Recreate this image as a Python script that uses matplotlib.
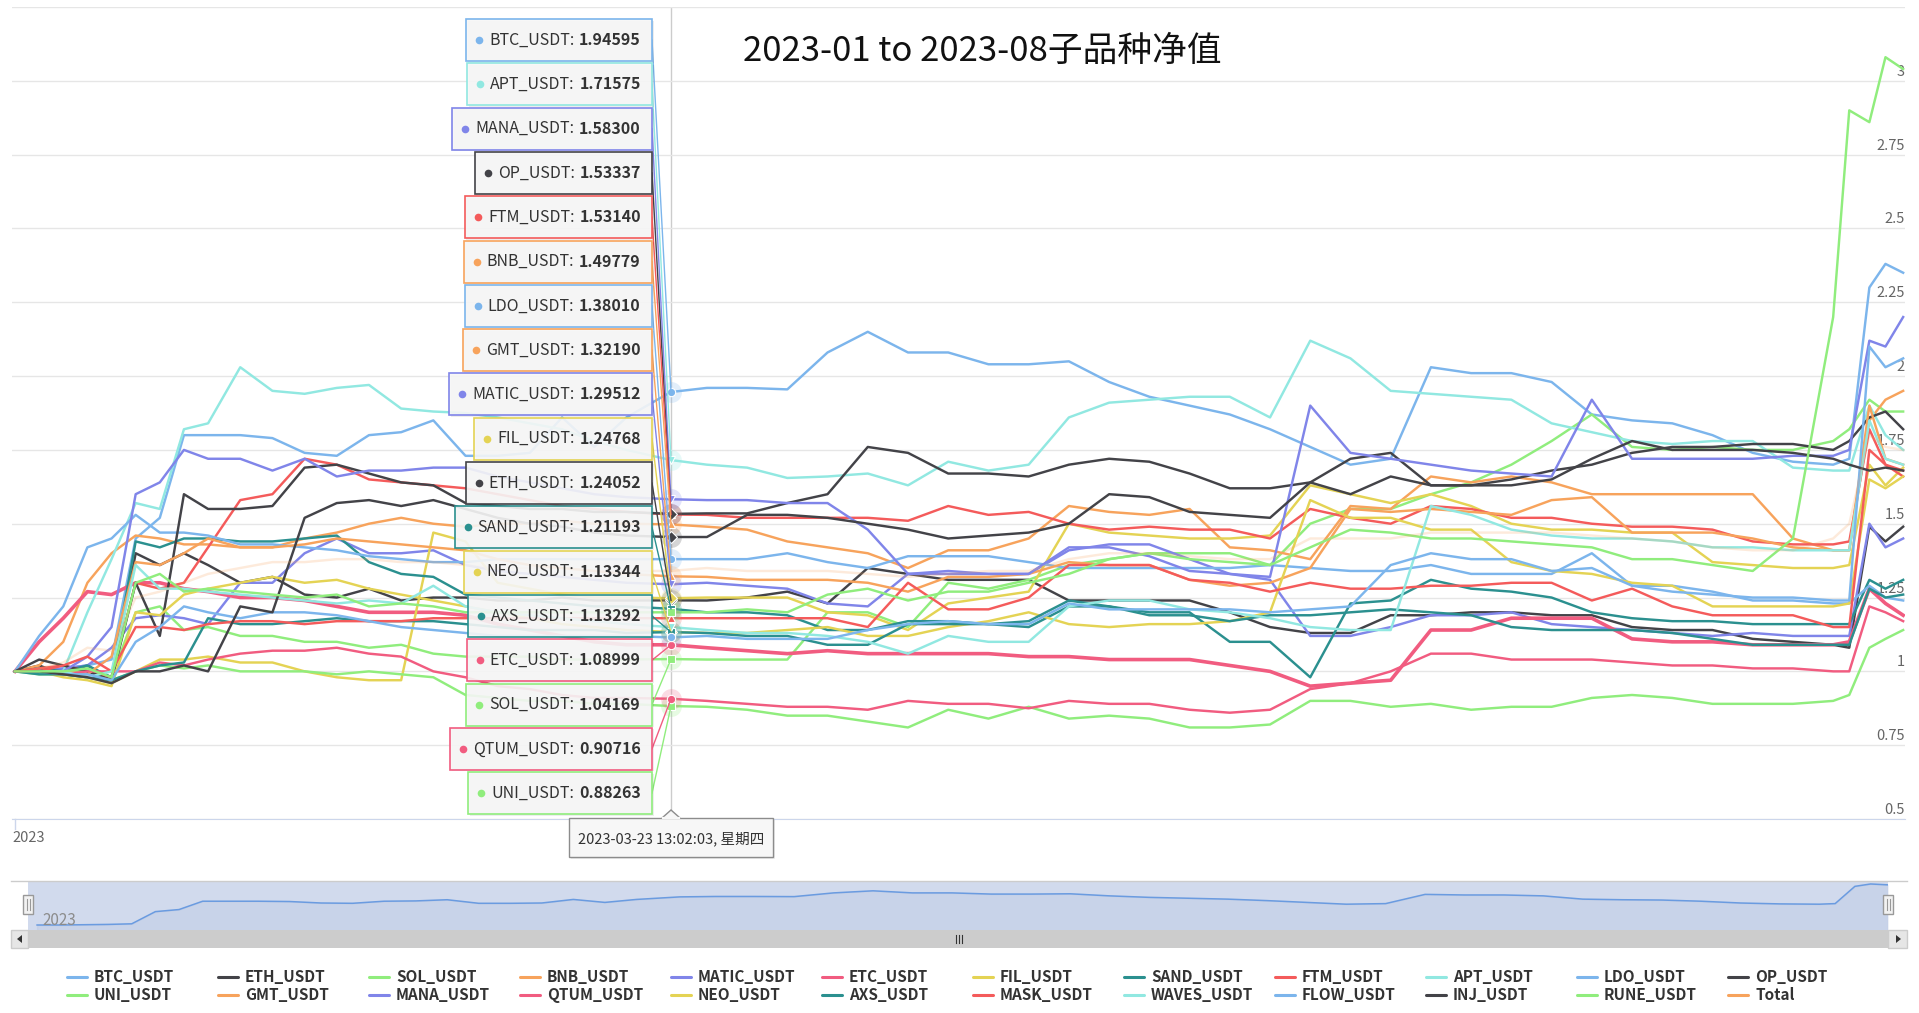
import numpy as np
import matplotlib.pyplot as plt
from matplotlib.patches import Rectangle, Polygon
import matplotlib.transforms as mtransforms

plt.rcParams['font.family'] = ['Noto Sans CJK SC', 'DejaVu Sans']

# days since 2023-01-01
days = np.array([0, 3, 6, 9, 12, 15, 18, 21, 24,
                 28, 32, 36, 40, 44, 48, 52, 56,
                 60, 64, 68, 72, 76, 81.5,
                 86, 91, 96, 101, 106, 111, 116, 121, 126,
                 131, 136, 141, 146, 151, 156, 161, 166, 171,
                 176, 181, 186, 191, 196, 201, 206, 211, 216,
                 221, 226, 228, 230.5, 232.5, 234.7])
hover_day = 81.5

btc = [1.00, 1.00, 1.01, 1.02, 1.04, 1.45, 1.52, 1.80, 1.80,
       1.80, 1.79, 1.74, 1.73, 1.80, 1.81, 1.85, 1.73,
       1.73, 1.74, 1.86, 1.76, 1.86, 1.94595,
       1.96, 1.96, 1.955, 2.08, 2.15, 2.08, 2.08, 2.04, 2.04,
       2.05, 1.98, 1.93, 1.90, 1.87, 1.82, 1.76, 1.70, 1.72,
       2.03, 2.01, 2.01, 1.98, 1.87, 1.85, 1.84, 1.80, 1.74,
       1.71, 1.70, 1.72, 2.30, 2.38, 2.35]
eth = [1.00, 1.02, 0.99, 1.02, 0.97, 1.40, 1.36, 1.40, 1.36,
       1.30, 1.32, 1.26, 1.25, 1.28, 1.24, 1.25, 1.25,
       1.24, 1.24, 1.25, 1.24, 1.24, 1.24052,
       1.24, 1.25, 1.27, 1.23, 1.35, 1.33, 1.31, 1.31, 1.31,
       1.24, 1.24, 1.24, 1.24, 1.20, 1.15, 1.13, 1.13, 1.19,
       1.19, 1.20, 1.20, 1.19, 1.19, 1.15, 1.14, 1.14, 1.11,
       1.10, 1.09, 1.08, 1.49, 1.44, 1.49]
sol = [1.00, 1.00, 0.99, 1.01, 0.98, 1.20, 1.22, 1.14, 1.15,
       1.12, 1.12, 1.10, 1.10, 1.08, 1.09, 1.06, 1.05,
       1.05, 1.05, 1.04, 1.04, 1.04, 1.04169,
       1.04, 1.04, 1.04, 1.20, 1.20, 1.15, 1.30, 1.28, 1.31,
       1.36, 1.38, 1.40, 1.40, 1.40, 1.36, 1.50, 1.55, 1.55,
       1.60, 1.64, 1.70, 1.78, 1.87, 1.76, 1.75, 1.76, 1.75,
       1.75, 1.78, 1.82, 1.92, 1.88, 1.88]
bnb = [1.00, 1.02, 1.10, 1.30, 1.40, 1.46, 1.45, 1.43, 1.43,
       1.42, 1.42, 1.45, 1.47, 1.50, 1.52, 1.50, 1.49,
       1.50, 1.50, 1.51, 1.50, 1.50, 1.49779,
       1.49, 1.48, 1.44, 1.42, 1.40, 1.35, 1.41, 1.41, 1.45,
       1.56, 1.54, 1.53, 1.55, 1.42, 1.41, 1.38, 1.56, 1.55,
       1.66, 1.64, 1.66, 1.64, 1.60, 1.60, 1.60, 1.60, 1.60,
       1.45, 1.41, 1.41, 1.85, 1.92, 1.95]
matic = [1.00, 1.00, 1.01, 1.02, 1.08, 1.18, 1.19, 1.18, 1.16,
         1.30, 1.30, 1.40, 1.45, 1.40, 1.40, 1.41, 1.36,
         1.34, 1.33, 1.32, 1.31, 1.30, 1.29512,
         1.30, 1.29, 1.28, 1.23, 1.22, 1.33, 1.34, 1.33, 1.33,
         1.41, 1.43, 1.43, 1.38, 1.33, 1.31, 1.12, 1.12, 1.15,
         1.19, 1.19, 1.20, 1.16, 1.15, 1.14, 1.13, 1.12, 1.13,
         1.12, 1.12, 1.12, 1.50, 1.42, 1.45]
etc = [1.00, 1.10, 1.18, 1.27, 1.26, 1.30, 1.30, 1.28, 1.27,
       1.25, 1.25, 1.24, 1.22, 1.20, 1.20, 1.20, 1.19,
       1.16, 1.14, 1.12, 1.10, 1.09, 1.08999,
       1.08, 1.07, 1.06, 1.07, 1.06, 1.06, 1.06, 1.06, 1.05,
       1.05, 1.04, 1.04, 1.04, 1.02, 1.00, 0.95, 0.96, 0.97,
       1.14, 1.14, 1.18, 1.18, 1.18, 1.11, 1.10, 1.10, 1.09,
       1.09, 1.09, 1.10, 1.28, 1.23, 1.19]
fil = [1.00, 1.00, 0.99, 0.98, 0.96, 1.00, 1.04, 1.04, 1.05,
       1.03, 1.03, 1.00, 0.98, 0.97, 0.97, 1.47, 1.44,
       1.30, 1.28, 1.26, 1.25, 1.25, 1.24768,
       1.25, 1.25, 1.25, 1.20, 1.19, 1.14, 1.23, 1.25, 1.27,
       1.50, 1.47, 1.46, 1.45, 1.45, 1.46, 1.63, 1.60, 1.57,
       1.60, 1.56, 1.50, 1.48, 1.48, 1.47, 1.47, 1.37, 1.36,
       1.35, 1.35, 1.36, 1.70, 1.63, 1.69]
sand = [1.00, 1.01, 1.00, 1.02, 0.98, 1.44, 1.42, 1.45, 1.45,
        1.44, 1.44, 1.45, 1.46, 1.37, 1.33, 1.32, 1.26,
        1.25, 1.24, 1.23, 1.22, 1.22, 1.21193,
        1.20, 1.20, 1.19, 1.14, 1.14, 1.17, 1.17, 1.16, 1.15,
        1.22, 1.22, 1.20, 1.20, 1.10, 1.10, 0.98, 1.23, 1.24,
        1.31, 1.28, 1.27, 1.25, 1.20, 1.18, 1.17, 1.17, 1.16,
        1.16, 1.16, 1.16, 1.31, 1.28, 1.31]
ftm = [1.00, 1.01, 1.02, 1.00, 0.98, 1.30, 1.28, 1.30, 1.42,
       1.58, 1.60, 1.72, 1.70, 1.65, 1.64, 1.63, 1.62,
       1.60, 1.58, 1.56, 1.55, 1.54, 1.53140,
       1.53, 1.52, 1.52, 1.52, 1.52, 1.51, 1.56, 1.53, 1.54,
       1.50, 1.48, 1.49, 1.48, 1.48, 1.45, 1.55, 1.52, 1.50,
       1.56, 1.55, 1.52, 1.52, 1.50, 1.49, 1.49, 1.48, 1.44,
       1.43, 1.43, 1.44, 1.82, 1.70, 1.66]
apt = [1.00, 1.00, 1.00, 1.20, 1.38, 1.57, 1.55, 1.82, 1.84,
       2.03, 1.95, 1.94, 1.96, 1.97, 1.89, 1.88, 1.875,
       1.86, 1.84, 1.82, 1.78, 1.75, 1.71575,
       1.70, 1.69, 1.655, 1.66, 1.67, 1.63, 1.71, 1.68, 1.70,
       1.86, 1.91, 1.92, 1.93, 1.93, 1.86, 2.12, 2.06, 1.95,
       1.94, 1.93, 1.92, 1.84, 1.81, 1.78, 1.77, 1.78, 1.78,
       1.69, 1.68, 1.68, 1.90, 1.80, 1.75]
ldo = [1.00, 1.12, 1.22, 1.42, 1.45, 1.53, 1.47, 1.47, 1.46,
       1.43, 1.43, 1.42, 1.41, 1.39, 1.38, 1.37, 1.37,
       1.38, 1.38, 1.38, 1.38, 1.38, 1.38010,
       1.38, 1.38, 1.40, 1.37, 1.35, 1.39, 1.39, 1.39, 1.37,
       1.35, 1.35, 1.35, 1.35, 1.35, 1.36, 1.35, 1.34, 1.34,
       1.36, 1.33, 1.33, 1.33, 1.40, 1.29, 1.29, 1.27, 1.24,
       1.24, 1.23, 1.23, 1.29, 1.25, 1.24]
op = [1.00, 1.04, 1.02, 1.00, 0.97, 1.30, 1.12, 1.60, 1.55,
      1.55, 1.56, 1.69, 1.70, 1.67, 1.64, 1.63, 1.57,
      1.56, 1.55, 1.55, 1.54, 1.54, 1.53337,
      1.535, 1.535, 1.57, 1.60, 1.76, 1.74, 1.67, 1.67, 1.66,
      1.70, 1.72, 1.71, 1.67, 1.62, 1.62, 1.64, 1.72, 1.74,
      1.63, 1.63, 1.65, 1.68, 1.70, 1.74, 1.76, 1.76, 1.77,
      1.77, 1.75, 1.78, 1.86, 1.88, 1.82]
uni = [1.00, 0.99, 0.99, 0.98, 0.97, 1.00, 1.02, 1.01, 1.02,
       1.00, 1.00, 1.00, 0.99, 1.00, 0.99, 0.98, 0.92,
       0.91, 0.90, 0.90, 0.89, 0.89, 0.88263,
       0.88, 0.87, 0.85, 0.85, 0.83, 0.81, 0.87, 0.84, 0.88,
       0.84, 0.85, 0.84, 0.81, 0.81, 0.82, 0.90, 0.90, 0.88,
       0.89, 0.87, 0.88, 0.88, 0.91, 0.92, 0.91, 0.89, 0.89,
       0.89, 0.90, 0.92, 1.08, 1.11, 1.14]
gmt = [1.00, 1.00, 1.00, 0.99, 1.05, 1.37, 1.36, 1.40, 1.45,
       1.42, 1.42, 1.43, 1.45, 1.44, 1.43, 1.42, 1.41,
       1.38, 1.36, 1.35, 1.34, 1.33, 1.32190,
       1.32, 1.31, 1.31, 1.31, 1.30, 1.27, 1.32, 1.32, 1.33,
       1.37, 1.36, 1.36, 1.31, 1.29, 1.30, 1.35, 1.55, 1.54,
       1.55, 1.54, 1.53, 1.58, 1.59, 1.47, 1.47, 1.47, 1.45,
       1.42, 1.41, 1.41, 1.90, 1.72, 1.70]
mana = [1.00, 1.00, 1.00, 1.05, 1.15, 1.60, 1.64, 1.75, 1.72,
        1.72, 1.68, 1.72, 1.66, 1.68, 1.68, 1.69, 1.69,
        1.66, 1.64, 1.62, 1.60, 1.59, 1.58300,
        1.58, 1.58, 1.57, 1.57, 1.48, 1.33, 1.33, 1.33, 1.33,
        1.42, 1.42, 1.39, 1.34, 1.33, 1.32, 1.90, 1.74, 1.72,
        1.70, 1.68, 1.67, 1.66, 1.92, 1.72, 1.72, 1.72, 1.72,
        1.73, 1.73, 1.75, 2.12, 2.10, 2.20]
qtum = [1.00, 1.00, 0.99, 1.00, 1.00, 1.00, 1.03, 1.02, 1.04,
        1.06, 1.07, 1.07, 1.08, 1.06, 1.05, 1.00, 0.98,
        0.95, 0.94, 0.92, 0.91, 0.91, 0.90716,
        0.90, 0.89, 0.88, 0.88, 0.87, 0.90, 0.89, 0.89, 0.875,
        0.90, 0.89, 0.89, 0.87, 0.86, 0.87, 0.94, 0.96, 1.00,
        1.06, 1.06, 1.04, 1.04, 1.04, 1.03, 1.02, 1.02, 1.01,
        1.01, 1.00, 1.00, 1.22, 1.20, 1.17]
neo = [1.00, 1.00, 0.98, 0.97, 0.95, 1.20, 1.19, 1.26, 1.28,
       1.30, 1.32, 1.30, 1.31, 1.28, 1.26, 1.24, 1.22,
       1.20, 1.18, 1.16, 1.15, 1.14, 1.13344,
       1.13, 1.13, 1.14, 1.15, 1.12, 1.12, 1.15, 1.17, 1.20,
       1.16, 1.15, 1.16, 1.16, 1.17, 1.20, 1.58, 1.52, 1.52,
       1.48, 1.48, 1.37, 1.34, 1.33, 1.30, 1.29, 1.22, 1.22,
       1.22, 1.22, 1.23, 1.65, 1.62, 1.66]
axs = [1.00, 0.99, 0.99, 0.98, 0.97, 1.00, 1.02, 1.03, 1.18,
       1.16, 1.16, 1.17, 1.18, 1.17, 1.17, 1.17, 1.16,
       1.15, 1.14, 1.14, 1.14, 1.13, 1.13292,
       1.13, 1.12, 1.12, 1.09, 1.09, 1.16, 1.16, 1.16, 1.17,
       1.24, 1.22, 1.19, 1.19, 1.17, 1.19, 1.19, 1.20, 1.21,
       1.20, 1.19, 1.15, 1.14, 1.14, 1.14, 1.13, 1.11, 1.09,
       1.09, 1.09, 1.09, 1.28, 1.25, 1.26]
mask = [1.00, 1.00, 1.02, 1.05, 1.00, 1.15, 1.15, 1.14, 1.16,
        1.17, 1.17, 1.16, 1.17, 1.17, 1.17, 1.18, 1.18,
        1.18, 1.18, 1.18, 1.18, 1.18, 1.18,
        1.18, 1.18, 1.18, 1.18, 1.15, 1.30, 1.21, 1.21, 1.25,
        1.36, 1.36, 1.36, 1.31, 1.30, 1.27, 1.30, 1.28, 1.28,
        1.29, 1.29, 1.30, 1.30, 1.24, 1.28, 1.22, 1.19, 1.19,
        1.19, 1.15, 1.15, 1.75, 1.70, 1.68]
waves = [1.00, 1.00, 1.00, 0.98, 1.00, 1.36, 1.28, 1.28, 1.27,
         1.26, 1.25, 1.24, 1.23, 1.24, 1.23, 1.29, 1.22,
         1.20, 1.19, 1.18, 1.17, 1.16, 1.15,
         1.14, 1.13, 1.13, 1.12, 1.10, 1.06, 1.12, 1.10, 1.10,
         1.22, 1.24, 1.24, 1.21, 1.20, 1.18, 1.15, 1.14, 1.14,
         1.56, 1.53, 1.48, 1.46, 1.45, 1.45, 1.44, 1.42, 1.42,
         1.41, 1.41, 1.41, 1.85, 1.72, 1.70]
flow = [1.00, 1.00, 0.99, 0.99, 0.97, 1.10, 1.15, 1.22, 1.20,
        1.18, 1.20, 1.20, 1.19, 1.17, 1.15, 1.14, 1.13,
        1.12, 1.12, 1.12, 1.12, 1.12, 1.115,
        1.12, 1.11, 1.11, 1.11, 1.14, 1.16, 1.17, 1.16, 1.16,
        1.23, 1.21, 1.21, 1.21, 1.21, 1.20, 1.21, 1.22, 1.36,
        1.40, 1.38, 1.38, 1.34, 1.35, 1.29, 1.27, 1.26, 1.25,
        1.25, 1.24, 1.24, 2.10, 2.03, 2.06]
inj = [1.00, 1.00, 0.99, 0.98, 0.96, 1.00, 1.00, 1.02, 1.00,
       1.22, 1.20, 1.52, 1.57, 1.58, 1.56, 1.58, 1.55,
       1.52, 1.50, 1.49, 1.47, 1.46, 1.455,
       1.455, 1.53, 1.53, 1.52, 1.50, 1.48, 1.45, 1.46, 1.47,
       1.50, 1.60, 1.59, 1.54, 1.53, 1.52, 1.64, 1.60, 1.66,
       1.63, 1.63, 1.63, 1.65, 1.72, 1.78, 1.75, 1.75, 1.75,
       1.74, 1.72, 1.70, 1.68, 1.69, 1.68]
rune = [1.00, 1.00, 1.00, 1.01, 0.98, 1.30, 1.33, 1.27, 1.28,
        1.27, 1.26, 1.25, 1.26, 1.22, 1.23, 1.22, 1.20,
        1.20, 1.20, 1.20, 1.20, 1.20, 1.20,
        1.20, 1.21, 1.20, 1.26, 1.28, 1.24, 1.27, 1.27, 1.30,
        1.33, 1.38, 1.40, 1.38, 1.37, 1.36, 1.42, 1.48, 1.47,
        1.45, 1.45, 1.44, 1.43, 1.42, 1.38, 1.38, 1.36, 1.34,
        1.45, 2.20, 2.90, 2.86, 3.08, 3.04]
total = [1.00, 1.01, 1.03, 1.08, 1.07, 1.25, 1.27, 1.30, 1.33,
         1.35, 1.37, 1.37, 1.38, 1.38, 1.37, 1.37, 1.36,
         1.35, 1.35, 1.35, 1.34, 1.34, 1.34,
         1.35, 1.34, 1.34, 1.34, 1.33, 1.32, 1.33, 1.34, 1.34,
         1.38, 1.40, 1.40, 1.39, 1.38, 1.38, 1.45, 1.45, 1.45,
         1.47, 1.47, 1.47, 1.47, 1.46, 1.45, 1.44, 1.42, 1.41,
         1.41, 1.45, 1.50, 1.80, 1.76, 1.75]

names = ['BTC_USDT', 'ETH_USDT', 'SOL_USDT', 'BNB_USDT', 'MATIC_USDT', 'ETC_USDT',
         'FIL_USDT', 'SAND_USDT', 'FTM_USDT', 'APT_USDT', 'LDO_USDT', 'OP_USDT',
         'UNI_USDT', 'GMT_USDT', 'MANA_USDT', 'QTUM_USDT', 'NEO_USDT', 'AXS_USDT',
         'MASK_USDT', 'WAVES_USDT', 'FLOW_USDT', 'INJ_USDT', 'RUNE_USDT', 'Total']
values = [btc, eth, sol, bnb, matic, etc, fil, sand, ftm, apt, ldo, op,
          uni, gmt, mana, qtum, neo, axs, mask, waves, flow, inj, rune, total]
palette = ['#7cb5ec', '#434348', '#90ed7d', '#f7a35c', '#8085e9',
           '#f15c80', '#e4d354', '#2b908f', '#f45b5b', '#91e8e1']
tip_names = ['BTC_USDT', 'APT_USDT', 'MANA_USDT', 'OP_USDT', 'FTM_USDT', 'BNB_USDT',
             'LDO_USDT', 'GMT_USDT', 'MATIC_USDT', 'FIL_USDT', 'ETH_USDT', 'SAND_USDT',
             'NEO_USDT', 'AXS_USDT', 'ETC_USDT', 'SOL_USDT', 'QTUM_USDT', 'UNI_USDT']
symbols = ['o', 'D', 's', '^', 'v']

W, H = 1919, 1013
fig = plt.figure(figsize=(W / 100, H / 100), dpi=100)
ih = int(np.where(days == hover_day)[0][0])


def px_y(v):
    return 819 - (v - 0.5) * 295.2


# main plot
ax = fig.add_axes([12 / W, 1 - 819 / H, (1905 - 12) / W, (819 - 7) / H])
ax.set_xlim((12 - 15) / 8.045, (1905 - 15) / 8.045)
ax.set_ylim(0.5, 3.25)
yt = np.arange(0.5, 3.26, 0.25)
ax.set_yticks(yt)
ax.set_xticks([])
ax.grid(axis='y', color='#e6e6e6', lw=1)
ax.tick_params(length=0, labelleft=False)
for s in ['top', 'left', 'right']:
    ax.spines[s].set_visible(False)
ax.spines['bottom'].set_color('#ccd6eb')
lab_tr = mtransforms.offset_copy(ax.transData, fig=fig, x=0, y=2, units='dots')
for v in yt[:-1]:
    ax.text(ax.get_xlim()[1], v, f'{v:g}', ha='right', va='bottom', fontsize=10.5,
            color='#666666', transform=lab_tr, zorder=0.5)
ax.axvline(hover_day, color='#cccccc', lw=1, zorder=1)

for i, (n, vals) in enumerate(zip(names, values)):
    col = palette[i % 10]
    lw = 2.6 if n == 'ETC_USDT' else 1.75
    alpha = 0.22 if n == 'Total' else 1.0
    ax.plot(days, vals, color=col, lw=lw, alpha=alpha, zorder=2 + i * 0.01,
            solid_joinstyle='round')
for i, (n, vals) in enumerate(zip(names, values)):
    if n == 'Total':
        continue
    col = palette[i % 10]
    ax.plot([hover_day], [vals[ih]], 'o', ms=15, color=col, alpha=0.22, mec='none', zorder=3)
    ax.plot([hover_day], [vals[ih]], symbols[i % 5], ms=6, color=col, mec='white',
            mew=0.8, zorder=4)

# navigator (whole range selected -> masked)
nav = fig.add_axes([28 / W, 1 - 930 / H, (1888 - 28) / W, (930 - 881) / H])
nav.set_facecolor('#d1daed')
nav.plot(days, btc, color='#6a9be0', lw=1.1)
nav.fill_between(days, btc, 0, color='#335cad', alpha=0.05)
nav.set_xlim(-1.15, 234.7)
nav.set_ylim(0.832, 2.48)
nav.set_xticks([])
nav.set_yticks([])
for s in nav.spines.values():
    s.set_visible(False)

# overlay in pixel coordinates
ov = fig.add_axes([0, 0, 1, 1], facecolor='none')
ov.set_xlim(0, W)
ov.set_ylim(H, 0)
ov.axis('off')
ov.set_zorder(10)

ov.text(982, 51, '2023-01 to 2023-08子品种净值', ha='center', va='center',
        fontsize=25, color='#111111')

# x axis
ov.plot([15, 15], [819, 829], color='#ccd6eb', lw=1)
ov.text(12, 838, '2023', ha='left', va='center', fontsize=10.5, color='#666666')

# split tooltip
r = fig.canvas.get_renderer()
order = sorted(tip_names, key=lambda n: -values[names.index(n)][ih])
for k, n in enumerate(order):
    i = names.index(n)
    col = palette[i % 10]
    v = values[i][ih]
    cy = 40 + 44.3 * k
    tv = ov.text(641, cy, f'{v:.5f}', ha='right', va='center', fontsize=11.5,
                 fontweight='bold', color='#333333', zorder=22)
    w1 = tv.get_window_extent(r).width
    tn = ov.text(641 - w1 - 5, cy, n + ':', ha='right', va='center', fontsize=11.5,
                 color='#333333', zorder=22)
    w2 = tn.get_window_extent(r).width
    xd = 641 - w1 - 5 - w2 - 10
    left = xd - 13
    ov.plot([652, 671], [cy, px_y(v)], color=col, lw=1, zorder=19)
    ov.add_patch(Rectangle((left + 1.5, cy - 19.5), 652 - left, 42, fc=(0, 0, 0, 0.07),
                           ec='none', zorder=19.5))
    ov.add_patch(Rectangle((left, cy - 21), 652 - left, 42, fc=(0.969, 0.969, 0.969, 0.9),
                           ec=col, lw=1.2, zorder=20))
    ov.plot([xd], [cy], 'o', ms=5.5, color=col, mec='none', zorder=22)

# date label
ov.add_patch(Rectangle((571, 820), 204, 39, fc=(0, 0, 0, 0.07), ec='none', zorder=19.5))
ov.add_patch(Rectangle((569, 818), 204, 39, fc='#f7f7f7', ec='#8c8c8c', lw=1, zorder=20))
ov.add_patch(Polygon([[662, 818], [671, 810], [680, 818]], closed=False, fc='#f7f7f7',
                     ec='#8c8c8c', lw=1, zorder=21))
ov.plot([663, 679], [818.3, 818.3], color='#f7f7f7', lw=1.6, zorder=21.5)
ov.text(671, 838.5, '2023-03-23 13:02:03, 星期四', ha='center', va='center',
        fontsize=10.5, color='#333333', zorder=22)

# navigator decorations
ov.plot([11, 1907], [881, 881], color='#cccccc', lw=1)
ov.text(42, 920, '2023', ha='left', va='center', fontsize=11, color='#8c8c8c')
for hx in (28, 1888):
    ov.add_patch(Rectangle((hx - 5, 895), 10, 19, fc='#f2f2f2', ec='#999999', lw=1, zorder=30))
    ov.plot([hx - 1.5, hx - 1.5], [899, 910], color='#999999', lw=0.8, zorder=31)
    ov.plot([hx + 1.5, hx + 1.5], [899, 910], color='#999999', lw=0.8, zorder=31)

# scrollbar
ov.add_patch(Rectangle((11, 930), 1896, 18, fc='#f2f2f2', ec='none'))
ov.add_patch(Rectangle((28, 930), 1860, 18, fc='#cccccc', ec='none'))
ov.add_patch(Rectangle((11, 930), 17, 18, fc='#e6e6e6', ec='#cccccc', lw=1))
ov.add_patch(Rectangle((1888, 930), 19, 18, fc='#e6e6e6', ec='#cccccc', lw=1))
ov.add_patch(Polygon([[17, 939], [22, 935], [22, 943]], fc='#333333', ec='none'))
ov.add_patch(Polygon([[1901, 939], [1896, 935], [1896, 943]], fc='#333333', ec='none'))
for gx in (955.5, 958.5, 961.5):
    ov.plot([gx, gx], [935, 943], color='#333333', lw=0.8)

# legend
for k, n in enumerate(names):
    row, cj = divmod(k, 12)
    sx = 67 + 151 * cj
    sy = 977 + 18 * row
    ov.plot([sx, sx + 20], [sy, sy], color=palette[k % 10], lw=2.2, solid_capstyle='round')
    ov.text(sx + 27, sy, n, ha='left', va='center', fontsize=11, fontweight='bold',
            color='#333333')

fig.savefig('out.png', dpi=100)
